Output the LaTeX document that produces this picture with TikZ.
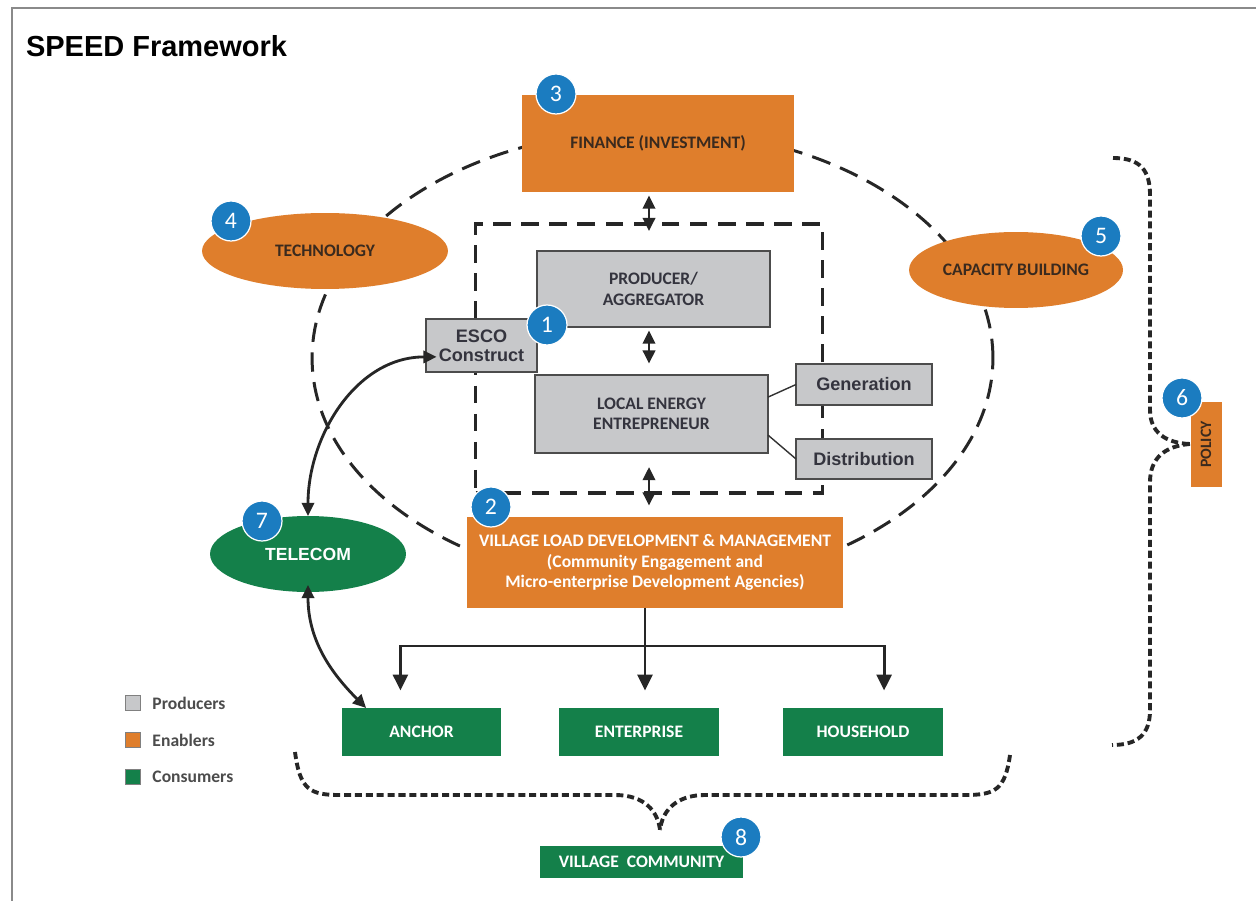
\documentclass[tikz,border=0pt]{standalone}
\usepackage{fontspec}
\setmainfont{Carlito}
\newfontfamily\arialfont{Liberation Sans}
\usetikzlibrary{arrows.meta, positioning, calc, shapes.geometric}

\definecolor{enabler}{HTML}{DF7E2C}
\definecolor{producer}{HTML}{C7C8CA}
\definecolor{consumer}{HTML}{14804A}
\definecolor{badgeblue}{HTML}{1B7CC0}
\definecolor{framegray}{HTML}{8A8A8A}
\definecolor{darktext}{HTML}{3A2A1E}
\definecolor{slate}{HTML}{34343E}

\begin{document}
\begin{tikzpicture}[
  x=0.02cm, y=-0.02cm,
  every node/.style = {inner sep=0pt, outer sep=0pt},
  producerbox/.style = {draw=black!70, line width=1pt, fill=producer, text=slate, align=center, font=\bfseries\fontsize{10}{11.5}\selectfont},
  smallbox/.style = {producerbox, font=\arialfont\bfseries\fontsize{10.3}{11}\selectfont},
  enablerbox/.style = {fill=enabler, text=darktext, align=center, font=\bfseries\fontsize{10}{11.5}\selectfont},
  consumerbox/.style = {fill=consumer, text=white, align=center, font=\bfseries\fontsize{10}{11.5}\selectfont},
  badge/.style = {circle, fill=badgeblue, draw=white, line width=0.7pt, minimum size=0.8cm, text=white, font=\fontsize{13.5}{13.5}\selectfont},
  link/.style = {line width=1.6pt, draw=black!85},
  arrow/.style = {link, -{Triangle[length=9pt, width=8.5pt]}},
  dblarrow/.style = {link, {Triangle[length=7.5pt, width=7pt]}-{Triangle[length=7.5pt, width=7pt]}},
  ring/.style = {line width=1.7pt, draw=black!85, dash pattern=on 11pt off 6pt},
  corebox/.style = {draw=black!85, line width=2.1pt, dash pattern=on 10pt off 6pt},
  brace/.style = {line width=2.2pt, draw=black!85, dash pattern=on 4pt off 2.2pt},
  legendsq/.style = {draw=black!50, line width=0.6pt, minimum size=0.3cm},
  legendtext/.style = {text=black!70, font=\bfseries\fontsize{10}{12}\selectfont}
]
  \useasboundingbox (0,0) rectangle (1256,901);
  \fill[white] (0,0) rectangle (1256,901);

  % Frame and title
  \draw[framegray, line width=1.1pt] (12,901) -- (12,8) -- (1256,8);
  \node[anchor=west, font=\arialfont\bfseries\fontsize{16.5}{20}\selectfont] (title) at (26,46) {SPEED Framework};

  % Enabler ring and core
  \draw[ring] (652.5,358) ellipse [x radius=6.81cm, y radius=4.56cm];
  \node[corebox, minimum width=6.94cm, minimum height=5.38cm] (core) at (649,358.5) {};

  % Enablers
  \node[enablerbox, minimum width=5.44cm, minimum height=1.94cm] (finance) at (658,143.5) {FINANCE (INVESTMENT)};
  \node[enablerbox, ellipse, minimum width=4.92cm, minimum height=1.52cm] (tech) at (325,251) {TECHNOLOGY};
  \node[enablerbox, ellipse, minimum width=4.28cm, minimum height=1.52cm] (capacity) at (1016,270) {CAPACITY BUILDING};
  \node[enablerbox, text=white, minimum width=7.52cm, minimum height=1.82cm, font=\bfseries\fontsize{10}{11.9}\selectfont] (vld) at (655,562.5)
    {VILLAGE LOAD DEVELOPMENT \& MANAGEMENT\\(Community Engagement and\\Micro-enterprise Development Agencies)};
  \node[enablerbox, rotate=90, minimum width=1.7cm, minimum height=0.62cm, font=\bfseries\fontsize{9}{9}\selectfont] (policy) at (1206,444.5) {POLICY};

  % Producers
  \node[producerbox, minimum width=4.66cm, minimum height=1.52cm] (producer) at (653.5,289) {PRODUCER/\\AGGREGATOR};
  \node[smallbox, minimum width=2.22cm, minimum height=1.06cm] (esco) at (481.5,345.5) {ESCO\\Construct};
  \node[producerbox, minimum width=4.66cm, minimum height=1.56cm] (lee) at (651.5,414) {LOCAL ENERGY\\ENTREPRENEUR};
  \node[smallbox, minimum width=2.72cm, minimum height=0.82cm] (generation) at (864,384.5) {Generation};
  \node[smallbox, minimum width=2.72cm, minimum height=0.8cm] (distribution) at (864,459) {Distribution};

  % Consumers
  \node[consumerbox, ellipse, minimum width=3.92cm, minimum height=1.52cm, font=\arialfont\bfseries\fontsize{10}{12}\selectfont] (telecom) at (308,554) {TELECOM};
  \node[consumerbox, minimum width=3.2cm, minimum height=0.96cm] (anch) at (421.5,732) {ANCHOR};
  \node[consumerbox, minimum width=3.2cm, minimum height=0.96cm] (enterprise) at (639,732) {ENTERPRISE};
  \node[consumerbox, minimum width=3.2cm, minimum height=0.96cm] (household) at (863,732) {HOUSEHOLD};
  \node[consumerbox, minimum width=4.06cm, minimum height=0.64cm] (community) at (641.5,861.5) {VILLAGE\ \ COMMUNITY};

  % Links inside the core
  \draw[dblarrow] ([yshift=-2pt]finance.south -| core.north) -- ([yshift=-4pt]core.north);
  \draw[dblarrow] ([yshift=-2pt]producer.south -| core.north) -- ([yshift=6.5pt]lee.north -| core.north);
  \draw[dblarrow] ([yshift=-8pt]lee.south -| core.north) -- ([yshift=6.5pt]vld.north -| core.north);
  \draw[line width=0.8pt, black!80] ([yshift=9.6pt]lee.east) -- (generation.west);
  \draw[line width=0.8pt, black!80] ([yshift=-12pt]lee.east) -- (distribution.west);

  % Telecom links
  \draw[dblarrow] (telecom.north) to[out=90, in=180] ([xshift=6pt, yshift=-6.5pt]esco.west);
  \draw[dblarrow] ([yshift=4pt]telecom.south) to[out=-90, in=135] ([xshift=14pt]anch.north west);

  % Load to consumers
  \coordinate (split) at ($(vld.south)+(-10,38)$);
  \draw[link] (vld.south -| split) -- (split);
  \draw[arrow] (split) -| ([xshift=-12pt, yshift=10pt]anch.north);
  \draw[arrow] (split) -| ([xshift=12pt, yshift=10pt]household.north);
  \draw[arrow] (vld.south -| split) -- ([yshift=10pt]split |- enterprise.north);

  % Community brace
  \coordinate (braceL) at (295,752);
  \coordinate (braceR) at (1010,755);
  \coordinate (braceTip) at (660,830);
  \draw[brace] (braceL) .. controls (300,790) and (310,795) .. (340,795) -- (615,795) .. controls (645,795) and (658,812) .. (braceTip);
  \draw[brace] (braceR) .. controls (1005,790) and (995,795) .. (965,795) -- (705,795) .. controls (675,795) and (662,812) .. (braceTip);

  % Policy brace
  \coordinate (policyTop) at (1113,158);
  \coordinate (policyBot) at (1112,745);
  \coordinate (policyTip) at (1190,444);
  \draw[brace] (policyTop) .. controls (1140,158) and (1150,170) .. (1150,195) -- (1150,410) .. controls (1150,432) and (1165,443) .. (policyTip);
  \draw[brace] (policyTip) .. controls (1165,446) and (1150,458) .. (1150,482) -- (1150,710) .. controls (1150,735) and (1137,745) .. (policyBot);

  % Badges
  \node[badge] (num1) at (547,325) {1};
  \node[badge] (num2) at (491,507) {2};
  \node[badge] (num3) at (556,94) {3};
  \node[badge] (num4) at (231,221) {4};
  \node[badge] (num5) at (1101,236) {5};
  \node[badge] (num6) at (1182,398) {6};
  \node[badge] (num7) at (262,521) {7};
  \node[badge] (num8) at (741,837) {8};

  % Legend
  \node[legendsq, fill=producer] (legprod) at (133,703) {};
  \node[legendsq, fill=enabler] (legenab) at (133,740) {};
  \node[legendsq, fill=consumer] (legcons) at (133,777) {};
  \node[legendtext, right=0.24cm of legprod] (legprodtext) {Producers};
  \node[legendtext, right=0.24cm of legenab] (legenabtext) {Enablers};
  \node[legendtext, right=0.24cm of legcons] (legconstext) {Consumers};
\end{tikzpicture}
\end{document}
